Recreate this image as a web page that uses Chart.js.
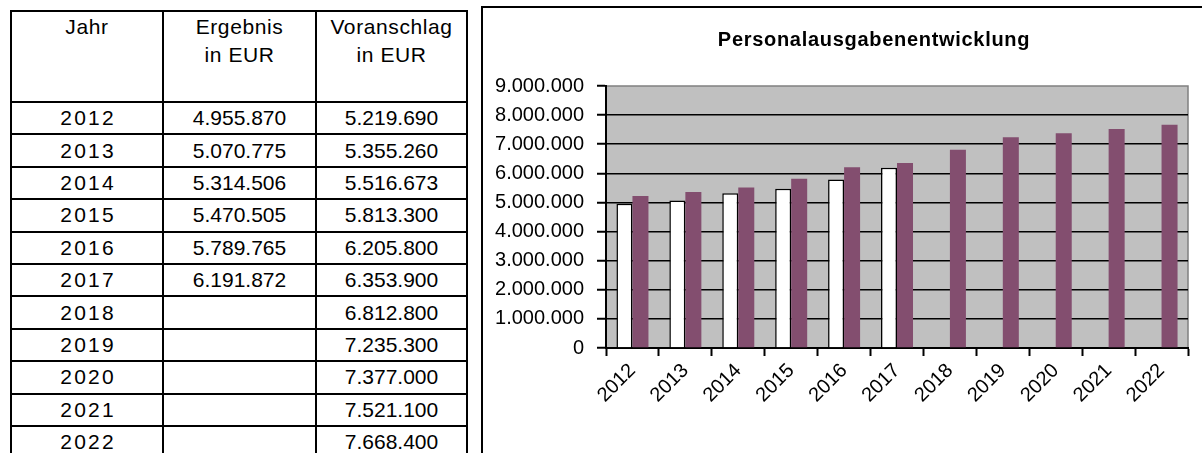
<!DOCTYPE html>
<html><head><meta charset="utf-8">
<script src="https://cdn.jsdelivr.net/npm/chart.js@4.4.1/dist/chart.umd.min.js"></script>
<style>
html,body{margin:0;padding:0;background:#fff;width:1202px;height:453px;overflow:hidden;position:relative;font-family:"Liberation Sans",Arial,sans-serif;}
#tbl{position:absolute;left:10px;top:10px;border-collapse:separate;border-spacing:0;border-left:2px solid #000;border-top:2px solid #000;table-layout:fixed;font-size:21px;color:#000;}
#tbl th,#tbl td{box-sizing:border-box;border-right:2px solid #000;border-bottom:2px solid #000;padding:0;text-align:center;font-weight:normal;}
#tbl th{height:91px;vertical-align:top;line-height:28px;padding-top:1px;letter-spacing:0.6px;}
#tbl td{height:32.4px;vertical-align:middle;line-height:24px;}
#tbl td.y{letter-spacing:2.2px;padding-left:2.2px;}
#frame{position:absolute;left:481px;top:6px;width:760px;height:500px;border-left:2px solid #000;border-top:2px solid #000;}
#wrap{position:absolute;left:483px;top:8px;width:719px;height:445px;}
</style></head><body>
<table id="tbl">
<thead><tr><th style="width:152px">Jahr</th><th style="width:153px">Ergebnis<br>in EUR</th><th style="width:151px">Voranschlag<br>in EUR</th></tr></thead>
<tbody id="tb"></tbody>
</table>
<div id="frame"></div>
<div id="wrap"><canvas id="c" width="719" height="445"></canvas></div>
<script>
const years = ['2012','2013','2014','2015','2016','2017','2018','2019','2020','2021','2022'];
const ergebnis = [4955870, 5070775, 5314506, 5470505, 5789765, 6191872, null, null, null, null, null];
const voranschlag = [5219690, 5355260, 5516673, 5813300, 6205800, 6353900, 6812800, 7235300, 7377000, 7521100, 7668400];
const yMax = 9000000;
const yStep = 1000000;
const chartTitle = 'Personalausgabenentwicklung';
const seriesNames = ['Ergebnis in EUR', 'Voranschlag in EUR'];

const fmt = v => String(Math.round(v)).replace(/\B(?=(\d{3})+(?!\d))/g, '.');

// table
const tb = document.getElementById('tb');
years.forEach((y, i) => {
  const tr = document.createElement('tr');
  const a = document.createElement('td'); a.className = 'y'; a.textContent = y;
  const b = document.createElement('td'); b.textContent = ergebnis[i] == null ? '' : fmt(ergebnis[i]);
  const c = document.createElement('td'); c.textContent = fmt(voranschlag[i]);
  tr.append(a, b, c); tb.appendChild(tr);
});

const FAM = '"Liberation Sans", Arial, sans-serif';
const plotBg = {
  id: 'plotBg',
  beforeDraw(chart) {
    const {ctx, chartArea: a} = chart;
    ctx.save();
    ctx.fillStyle = '#C0C0C0';
    ctx.fillRect(a.left, a.top, a.right - a.left, a.bottom - a.top);
    ctx.strokeStyle = '#808080';
    ctx.lineWidth = 1.5;
    ctx.strokeRect(a.left, a.top, a.right - a.left, a.bottom - a.top);
    ctx.restore();
  }
};
const titlePlugin = {
  id: 'offTitle',
  afterDraw(chart) {
    const ctx = chart.ctx;
    ctx.save();
    ctx.font = 'bold 20px ' + FAM;
    if ('letterSpacing' in ctx) ctx.letterSpacing = '0.7px';
    ctx.fillStyle = '#000';
    ctx.textAlign = 'center';
    ctx.textBaseline = 'middle';
    ctx.fillText(chartTitle, 391, 32);
    ctx.restore();
  }
};

new Chart(document.getElementById('c'), {
  type: 'bar',
  data: {
    labels: years,
    datasets: [
      {label: seriesNames[0], data: ergebnis, backgroundColor: '#ffffff', borderColor: '#000000', borderWidth: 1.5, borderSkipped: 'bottom'},
      {label: seriesNames[1], data: voranschlag, backgroundColor: '#834E6F', borderWidth: 0}
    ]
  },
  options: {
    responsive: false,
    animation: false,
    devicePixelRatio: 1,
    datasets: {bar: {categoryPercentage: 0.605, barPercentage: 1}},
    layout: {padding: {left: 0, right: 14, top: 78, bottom: 0}},
    plugins: {
      legend: {display: false},
      tooltip: {enabled: false},
      title: {display: false}
    },
    scales: {
      x: {
        grid: {display: true, drawOnChartArea: false, tickColor: '#000', tickLength: 8, tickWidth: 2, offset: true},
        border: {display: true, color: '#000', width: 2},
        ticks: {font: {family: FAM, size: 20}, color: '#000', minRotation: 45, maxRotation: 45, autoSkip: false, padding: 3},
        afterFit(s) { s.height = 105; }
      },
      y: {
        min: 0, max: yMax,
        ticks: {stepSize: yStep, callback: v => fmt(v), font: {family: FAM, size: 20}, color: '#000', padding: 13},
        grid: {color: c => (c.tick && c.tick.value === yMax) ? 'rgba(0,0,0,0)' : '#000', lineWidth: 1.5, tickColor: '#000', tickLength: 9, tickWidth: 2},
        border: {display: true, color: '#000', width: 2},
        afterFit(s) { s.width = 123; }
      }
    }
  },
  plugins: [plotBg, titlePlugin]
});
</script>
</body></html>
